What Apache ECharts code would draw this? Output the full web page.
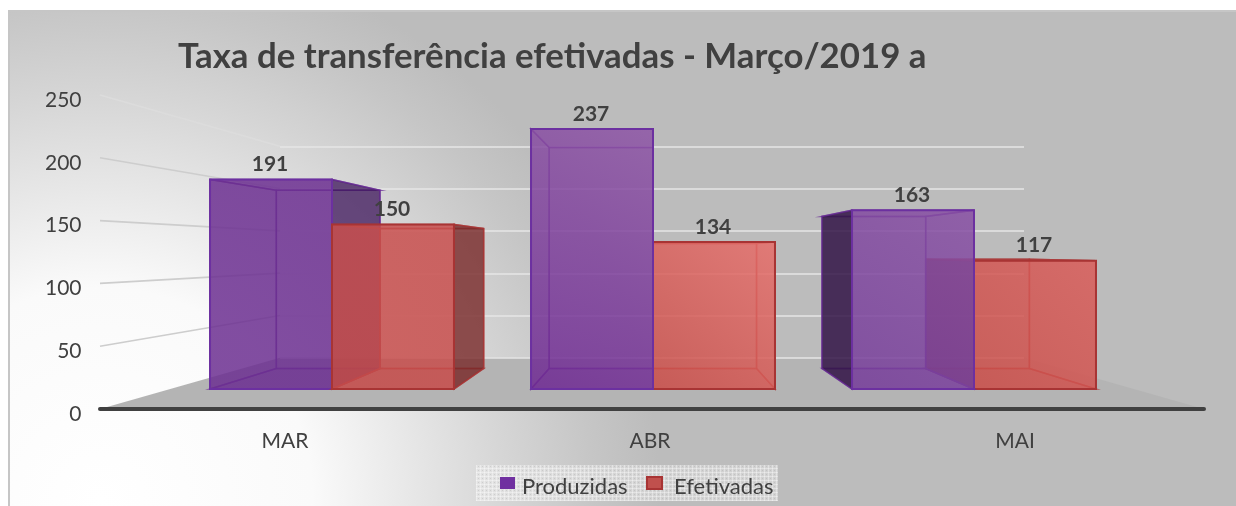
<!DOCTYPE html>
<html><head><meta charset="utf-8">
<script src="https://cdn.jsdelivr.net/npm/echarts@6/dist/echarts.min.js"></script>
<style>html,body{margin:0;padding:0;background:#fff}#c{width:1236px;height:506px}</style>
</head><body><div id="c"></div>
<script>
const categories = ['MAR', 'ABR', 'MAI'];
const produzidas = [191, 237, 163];
const efetivadas = [150, 134, 117];
const yTicks = [0, 50, 100, 150, 200, 250];
const titleText = 'Taxa de transferência efetivadas - Março/2019 a';

const VP = [652, 252], BAR_DEPTH = 0.85, WALL_DEPTH = 0.674;
const proj = (p, k) => [VP[0] + (p[0] - VP[0]) * k, VP[1] + (p[1] - VP[1]) * k];
const FONT = 'Lato, Carlito, sans-serif', INK = '#404040';

const chart = echarts.init(document.getElementById('c'));

const dots = document.createElement('canvas');
dots.width = dots.height = 4;
(function () {
  const g = dots.getContext('2d');
  g.fillStyle = 'rgba(235,235,235,0.45)'; g.fillRect(0, 0, 4, 4);
  g.fillStyle = 'rgba(255,255,255,0.35)'; g.fillRect(0, 0, 1, 4); g.fillRect(0, 0, 4, 1);
  g.fillStyle = 'rgba(150,150,150,0.25)'; g.fillRect(2, 2, 1, 1);
})();

const PAL = {
  p: { edge: '#6c30a0', inner: 'rgba(105,45,150,0.75)', floor: 'rgba(100,40,150,0.10)',
    face: [
      { hi: 'rgba(108,47,145,0.85)', lo: 'rgba(108,47,145,0.85)', dark: 'rgba(60,20,90,0.75)' },
      { hi: 'rgba(142,86,166,0.85)', lo: 'rgba(110,41,146,0.85)', dark: 'rgba(60,20,90,0.75)' },
      { hi: 'rgba(136,80,164,0.85)', lo: 'rgba(118,61,154,0.85)', dark: 'rgba(50,20,70,0.85)' }
    ] },
  r: { edge: '#a83434', inner: 'rgba(170,55,55,0.75)', floor: 'rgba(160,50,50,0.10)',
    face: [
      { hi: 'rgba(201,79,78,0.85)', lo: 'rgba(198,76,74,0.85)', dark: 'rgba(120,40,40,0.80)' },
      { hi: 'rgba(231,111,107,0.85)', lo: 'rgba(202,78,73,0.85)', dark: 'rgba(120,40,40,0.80)' },
      { hi: 'rgba(218,93,90,0.85)', lo: 'rgba(202,78,73,0.85)', dark: 'rgba(120,40,40,0.80)' }
    ] }
};

function barRender(pal, side) {
  return function (params, api) {
    const idx = api.value(0), val = api.value(1);
    const base = api.coord([idx, 0]), top = api.coord([idx, val]);
    const w = api.size([1, 0])[0] * 0.38;
    const x0 = side < 0 ? base[0] - w : base[0], x1 = x0 + w;
    const y0 = top[1], y1 = base[1];
    const fTL = [x0, y0], fTR = [x1, y0], fBR = [x1, y1], fBL = [x0, y1];
    const bTL = proj(fTL, BAR_DEPTH), bTR = proj(fTR, BAR_DEPTH), bBR = proj(fBR, BAR_DEPTH), bBL = proj(fBL, BAR_DEPTH);
    const z = -Math.abs((x0 + x1) / 2 - VP[0]) / 10 + 50;
    const tone = pal.face[idx];
    const face = (pts, fill, stroke, lw, dz) => ({
      type: 'polygon', z2: z + (dz || 0), shape: { points: pts },
      style: { fill: fill, stroke: stroke, lineWidth: lw }
    });
    const none = 'rgba(255,255,255,0)';
    const els = [];
    els.push(face([bTL, bTR, bBR, bBL], none, pal.inner, 1.5, 0));
    els.push(face([fBL, fBR, bBR, bBL], pal.floor, pal.inner, 1.5, 0.1));
    els.push(face([fTL, fTR, bTR, bTL], none, pal.inner, 1.5, 0.1));
    const leftOuter = bTL[0] < x0, rightOuter = bTR[0] > x1;
    els.push(face([fTL, fBL, bBL, bTL], leftOuter ? tone.dark : none, pal.inner, 1.5, 0.2));
    els.push(face([fTR, fBR, bBR, bTR], rightOuter ? tone.dark : none, pal.inner, 1.5, 0.2));
    els.push(face([fTL, fTR, fBR, fBL], new echarts.graphic.LinearGradient(1, 0, 0, 1, [
      { offset: 0, color: tone.hi }, { offset: 1, color: tone.lo }
    ]), pal.edge, 2, 0.5));
    els.push({
      type: 'text', z2: 200,
      style: { text: String(val), x: (x0 + x1) / 2 - 1, y: y0 - 15, textAlign: 'center', textVerticalAlign: 'middle',
        font: 'bold 21px ' + FONT, fill: INK }
    });
    return { type: 'group', children: els };
  };
}

function wallRender(params, api) {
  const v = api.value(1);
  const a = api.coord([0, v]);
  const b = proj(a, WALL_DEPTH);
  const children = [];
  if (v === 0) {
    const c = api.coord([1, 0]);
    children.push({ type: 'polygon', shape: { points: [a, b, proj(c, WALL_DEPTH), c] }, style: { fill: '#b4b4b4' } });
  } else {
    children.push({ type: 'line', shape: { x1: a[0], y1: a[1], x2: b[0], y2: b[1] },
      style: { stroke: v === 250 ? '#dcdcdc' : '#cdcdcd', lineWidth: 1.6 } });
  }
  return { type: 'group', children: children };
}

const hiddenAxis = (gridIndex, extra) => Object.assign({ gridIndex: gridIndex, show: false }, extra);
const legendText = (leftPad) => ({
  fontFamily: FONT, fontSize: 22, color: INK,
  rich: { t: { fontFamily: FONT, fontSize: 22, color: INK, padding: [8, 0, 0, leftPad] } }
});
const legendBase = { top: 476, padding: 0, itemWidth: 15, itemHeight: 12, icon: 'rect', formatter: '{t|{name}}' };

chart.setOption({
  animation: false,
  textStyle: { fontFamily: FONT },
  title: { text: titleText, left: 178, top: 39, padding: 0,
    textStyle: { fontFamily: FONT, fontWeight: 'bold', fontSize: 34.8, color: INK } },
  legend: [
    Object.assign({}, legendBase, { left: 500, data: ['Produzidas'], textStyle: legendText(2) }),
    Object.assign({}, legendBase, { left: 646, data: ['Efetivadas'], textStyle: legendText(7) })
  ],
  graphic: [
    { type: 'rect', z: -10, shape: { x: 9, y: 11, width: 1240, height: 510 },
      style: { stroke: '#c6c6c6', lineWidth: 2,
        fill: { type: 'radial', x: 100, y: 500, r: 560, global: true, colorStops: [
          { offset: 0, color: '#ffffff' }, { offset: 0.38, color: '#fafafa' },
          { offset: 0.55, color: '#e8e8e8' }, { offset: 0.72, color: '#d6d6d6' },
          { offset: 0.88, color: '#c6c6c6' }, { offset: 1, color: '#bcbcbc' }] } } },
    { type: 'rect', z: -9, shape: { x: 476, y: 465, width: 302, height: 36 },
      style: { fill: { image: dots, repeat: 'repeat' } } }
  ],
  grid: [
    { left: 100, width: 1104, top: 95, height: 314 },
    { left: 280, width: 744, top: 146.7, height: 211.3 },
    { left: 171.5, width: 963, top: 114.75, height: 274.25 },
    { left: 102.5, width: 1095, top: 100, height: 314 }
  ],
  xAxis: [
    { gridIndex: 0, type: 'value', min: 0, max: 1, z: 5, axisLine: { show: true, onZero: false, lineStyle: { color: INK, width: 4 } },
      axisTick: { show: false }, axisLabel: { show: false }, splitLine: { show: false } },
    hiddenAxis(1, { type: 'value', min: 0, max: 1 }),
    hiddenAxis(2, { type: 'category', data: categories }),
    { gridIndex: 3, type: 'category', data: categories, axisLine: { show: false }, axisTick: { show: false },
      axisLabel: { margin: 17, fontFamily: FONT, fontSize: 21, color: INK } }
  ],
  yAxis: [
    hiddenAxis(0, { type: 'value', min: 0, max: 250, interval: 50 }),
    { gridIndex: 1, type: 'value', min: 0, max: 250, interval: 50, axisLine: { show: false }, axisTick: { show: false },
      axisLabel: { show: false }, splitLine: { show: true, lineStyle: { color: '#e6e6e6', width: 1.6 } } },
    hiddenAxis(2, { type: 'value', min: 0, max: 250 }),
    { gridIndex: 3, type: 'value', min: 0, max: 250, interval: 50, axisLine: { show: false }, axisTick: { show: false },
      splitLine: { show: false },
      axisLabel: { margin: 21, fontFamily: FONT, fontSize: 21, color: INK } }
  ],
  series: [
    { type: 'custom', silent: true, xAxisIndex: 0, yAxisIndex: 0, z: -1, clip: false, renderItem: wallRender,
      data: yTicks.map(v => [0, v]), encode: { x: 0, y: 1 } },
    { name: 'Produzidas', type: 'custom', xAxisIndex: 2, yAxisIndex: 2, z: 3, clip: false,
      itemStyle: { color: '#7030a0' }, renderItem: barRender(PAL.p, -1),
      data: produzidas.map((v, i) => [i, v]), encode: { x: 0, y: 1 } },
    { name: 'Efetivadas', type: 'custom', xAxisIndex: 2, yAxisIndex: 2, z: 3, clip: false,
      itemStyle: { color: '#c0504d', borderColor: '#a83434', borderWidth: 1 }, renderItem: barRender(PAL.r, 1),
      data: efetivadas.map((v, i) => [i, v]), encode: { x: 0, y: 1 } }
  ]
});
</script></body></html>
